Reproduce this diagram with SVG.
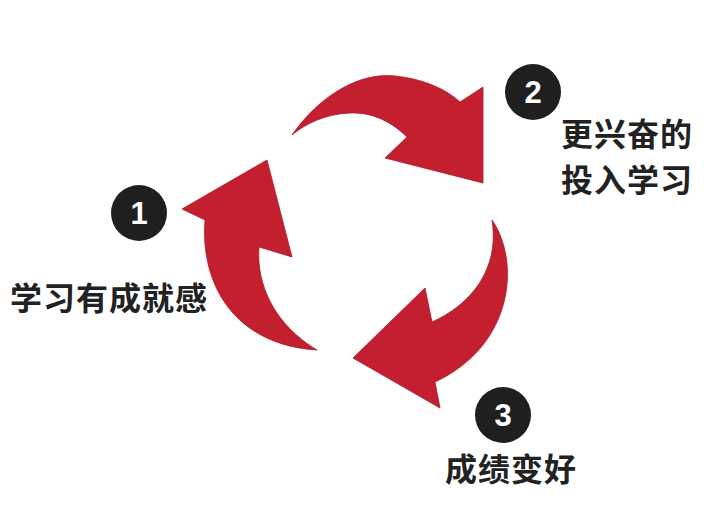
<svg xmlns="http://www.w3.org/2000/svg" width="725" height="520" viewBox="0 0 725 520">
<style>
.arrow{fill:#c41f2f;stroke:#a81a28;stroke-width:0.8;stroke-linejoin:miter}
.badge{fill:#1f1f1f}
.num{fill:#ffffff;font-family:"Liberation Sans","Noto Sans",sans-serif;font-weight:bold;font-size:31px;text-anchor:middle}
.lbl{fill:#222222;font-family:"Noto Sans CJK SC","Noto Sans",sans-serif;font-weight:bold;font-size:32px;letter-spacing:1px}
</style>
<rect width="725" height="520" fill="#ffffff"/>
<g id="connectors">
<path class="arrow" d="M267,160 L292,257 L259,247 C256,285 275,325 317,350 C235,345 200,285 205,220 L182,209 Z"/>
<path class="arrow" d="M292,135 C320,95 360,72 395,76 C425,79 447,90 460,102 L483,87 L483,183 L385,158 L407,137 C390,120 370,112 350,113 C325,114 305,124 292,135 Z"/>
<path class="arrow" d="M492,220 C520,260 515,345 435,382 L440,408 L353,358 L425,288 L432,322 C470,305 500,270 492,220 Z"/>
</g>
<g id="node1">
<circle class="badge" cx="139" cy="213" r="28"/>
<text class="num" x="139" y="224">1</text>
<text class="lbl" x="10" y="310">学习有成就感</text>
</g>
<g id="node2">
<circle class="badge" cx="533" cy="92" r="28"/>
<text class="num" x="533" y="103">2</text>
<text class="lbl" x="561" y="146">更兴奋的</text>
<text class="lbl" x="561" y="192">投入学习</text>
</g>
<g id="node3">
<circle class="badge" cx="503" cy="415" r="28"/>
<text class="num" x="503" y="426">3</text>
<text class="lbl" x="445" y="481">成绩变好</text>
</g>
</svg>
